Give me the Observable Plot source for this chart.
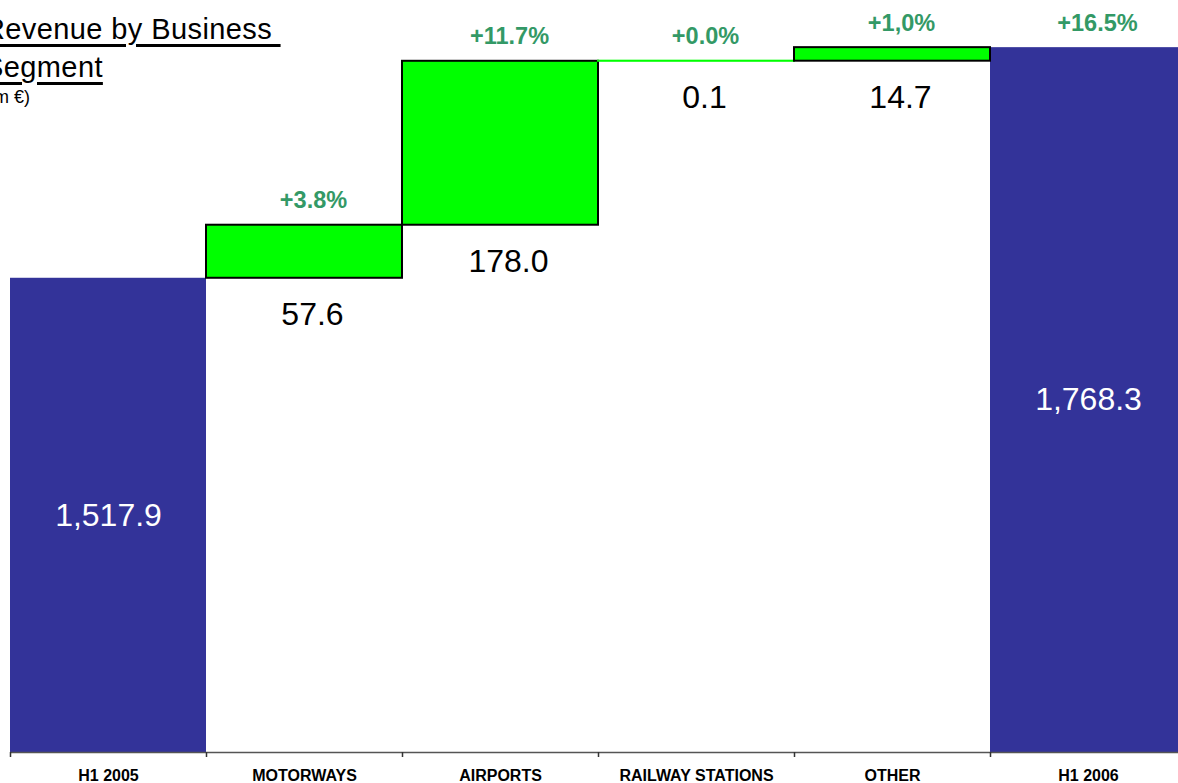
<!DOCTYPE html>
<html>
<head>
<meta charset="utf-8">
<script src="https://cdn.jsdelivr.net/npm/d3@7"></script>
<script src="https://cdn.jsdelivr.net/npm/@observablehq/plot@0.6"></script>
<style>
  html, body { margin: 0; padding: 0; background: #fff; overflow: hidden; width: 1178px; height: 783px; }
  #chart { position: absolute; left: 0; top: 0; width: 1186px; }
  #chart svg { max-width: none !important; }
  #title { position: absolute; left: -16px; top: 10px; font-family: Arial, "Liberation Sans", sans-serif; font-size: 29px; letter-spacing: 0.4px; line-height: 38px; color: #000; z-index: 2; white-space: nowrap; }
  #title span { text-decoration: underline; text-decoration-thickness: 2.5px; text-underline-offset: 5px; }
  #subtitle { position: absolute; left: -31px; top: 88px; font-family: Arial, "Liberation Sans", sans-serif; font-size: 18px; line-height: 18px; color: #000; z-index: 2; white-space: nowrap; }
</style>
</head>
<body>
<div id="title"><span>Revenue by Business&nbsp;</span><br><span>Segment</span></div>
<div id="subtitle">(in m €)</div>
<div id="chart"></div>
<script>
const categories = ["H1 2005", "MOTORWAYS", "AIRPORTS", "RAILWAY STATIONS", "OTHER", "H1 2006"];
const values = [1517.9, 57.6, 178.0, 0.1, 14.7, 1768.3];
const kinds = ["total", "delta", "delta", "delta", "delta", "total"];
const valueLabels = ["1,517.9", "57.6", "178.0", "0.1", "14.7", "1,768.3"];
const pctLabels = ["", "+3.8%", "+11.7%", "+0.0%", "+1,0%", "+16.5%"];

const axisMin = 1003;
const axisMax = 1819.5;

// Build waterfall table
let running = 0;
const rows = categories.map((c, i) => {
  let lo, hi;
  if (kinds[i] === "total") { lo = axisMin; hi = values[i]; running = values[i]; }
  else { lo = running; hi = running + values[i]; running = hi; }
  return { cat: c, kind: kinds[i], value: values[i], lo, hi, label: valueLabels[i], pct: pctLabels[i] };
});
const totals = rows.filter(d => d.kind === "total");
const deltas = rows.filter(d => d.kind === "delta");

const font = "Arial, 'Liberation Sans', sans-serif";

const chart = Plot.plot({
  width: 1186,
  height: 783,
  marginLeft: 10,
  marginRight: 0,
  marginTop: 0,
  marginBottom: 31,
  style: { fontFamily: font, background: "transparent", overflow: "visible", maxWidth: "none" },
  x: { domain: categories, padding: 0, label: null },
  y: { domain: [axisMin, axisMax], axis: null },
  marks: [
    Plot.rectY(totals, { x: "cat", y1: "lo", y2: "hi", fill: "#333399" }),
    Plot.rectY(deltas, {
      x: "cat", y1: "lo", y2: "hi", fill: "#00ff00",
      stroke: d => d.value < 1 ? "#00ff00" : "#000000", strokeWidth: 2
    }),
    Plot.text(totals, {
      x: "cat", y: d => (d.lo + d.hi) / 2, text: "label",
      fill: "white", fontSize: 32
    }),
    Plot.text(deltas, {
      x: "cat", y: "lo", text: "label", fill: "black", fontSize: 32,
      lineAnchor: "bottom", dy: 47, dx: 8
    }),
    Plot.text(rows.filter(d => d.pct), {
      x: "cat", y: "hi", text: "pct", fill: "#339966", fontSize: 23.5, fontWeight: "bold",
      lineAnchor: "bottom", dy: -17, dx: 9
    }),
    Plot.ruleY([axisMin], { stroke: "#555", strokeWidth: 1.5 }),
    Plot.axisX({ tickSize: 5, dx: -98, tickFormat: () => "", stroke: "#333", strokeWidth: 1.5 }),
    Plot.axisX({ tickSize: 0, tickPadding: 17, fontSize: 16, fontWeight: "bold", fill: "#000", label: null })
  ]
});
document.getElementById("chart").appendChild(chart);
</script>
</body>
</html>
